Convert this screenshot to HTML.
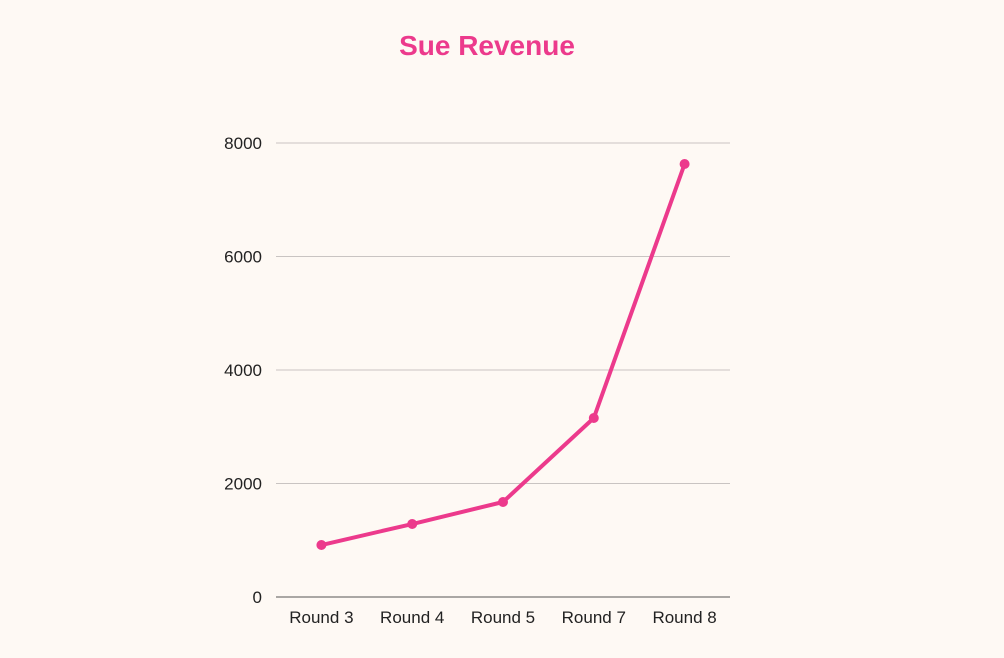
<!DOCTYPE html>
<html><head><meta charset="utf-8"><style>
body{margin:0;background:#fef9f4;}
svg{display:block;font-family:"Liberation Sans",sans-serif;}
</style></head><body>
<svg id="chart" width="1004" height="658">
<rect width="1004" height="658" fill="#fef9f4"/>
<text x="487" y="55" text-anchor="middle" font-size="28" font-weight="bold" fill="#ec3a8c">Sue Revenue</text>
<g id="grid"></g><g id="xlabels"></g><g id="series"></g>
</svg>
<script>
const categories=["Round 3","Round 4","Round 5","Round 7","Round 8"];
const revenue=[916,1286,1674,3154,7630];
const yTicks=[0,2000,4000,6000,8000];
const ns="http://www.w3.org/2000/svg";
const x0=276,x1=730,y0=597,y1=143,yMax=8000;
const band=(x1-x0)/categories.length;
function xs(i){return x0+band*(i+0.5);}
function ys(v){return y0-(v/yMax)*(y0-y1);}
function mk(t,a,p){const e=document.createElementNS(ns,t);for(const k in a)e.setAttribute(k,a[k]);p.appendChild(e);return e;}
const grid=document.getElementById('grid');
yTicks.forEach(t=>{
  const l=mk('line',{x1:x0,x2:x1,y1:ys(t),y2:ys(t),stroke:t===0?'#555':'#c9c4c2','stroke-width':1},grid);
  
  
  const tx=mk('text',{x:262,y:ys(t)+6,'text-anchor':'end','font-size':17,fill:'#222'},grid);
  tx.textContent=t;
  
  
});
const xl=document.getElementById('xlabels');
categories.forEach((c,i)=>{
  const tx=mk('text',{x:xs(i),y:623,'text-anchor':'middle','font-size':17,fill:'#222'},xl);
  tx.textContent=c;
  
  
});
const s=document.getElementById('series');
const pl=mk('polyline',{points:revenue.map((v,i)=>xs(i)+','+ys(v)).join(' '),fill:'none',stroke:'#ec3a8c','stroke-width':4,'stroke-linejoin':'round'},s);


revenue.forEach((v,i)=>{
  const c=mk('circle',{cx:xs(i),cy:ys(v),r:5,fill:'#ec3a8c'},s);
  
  
});
</script>
</body></html>
